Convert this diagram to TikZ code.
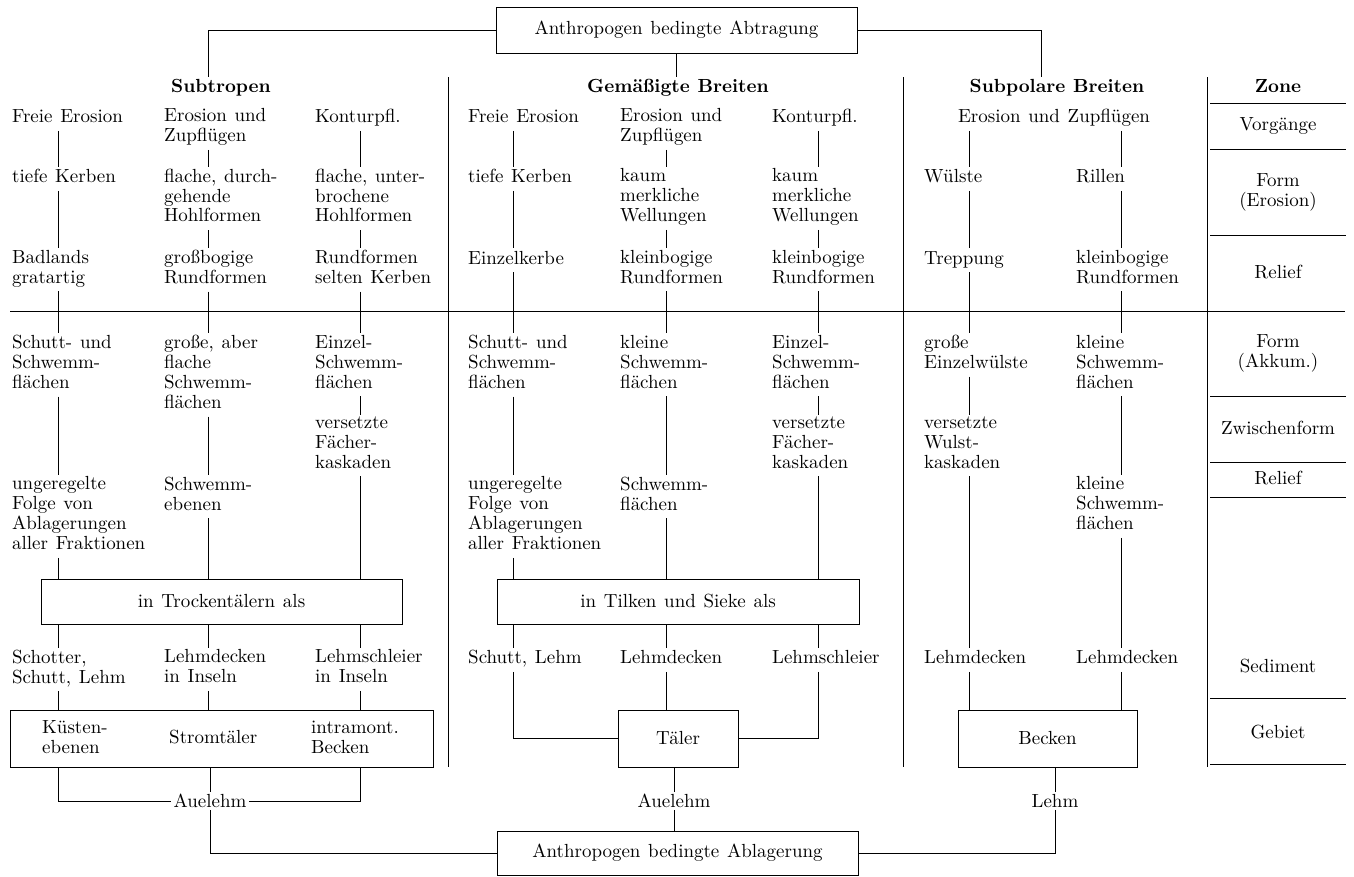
\documentclass[tikz,border=0pt]{standalone}
\newcommand{\fsz}{\fontsize{10.8}{11.34}\selectfont\spaceskip=4.4pt plus 1pt minus 0.5pt\relax}

\begin{document}
\begin{tikzpicture}[x=0.02cm, y=-0.02cm, line width=0.5pt,
  txt/.style={anchor=north west, align=left, inner sep=1pt, font=\fsz, execute at begin node=\strut},
  hd/.style={anchor=base, inner sep=1pt, font=\fsz\bfseries},
  zn/.style={align=center, inner sep=1pt, font=\fsz},
  lbl/.style={inner sep=1pt, font=\fsz},
  bx/.style={draw, minimum height=0.9cm, inner sep=0pt, font=\fsz}]
\useasboundingbox (0,0) rectangle (1354,876);

% column positions of the connectors
\coordinate (sa) at (58,0);
\coordinate (sb) at (208,0);
\coordinate (sc) at (360,0);
\coordinate (ga) at (513,0);
\coordinate (gb) at (666,0);
\coordinate (gc) at (818,0);
\coordinate (pa) at (969,0);
\coordinate (pb) at (1121,0);
\coordinate (pz) at (1041,0);

% head
\node[bx, minimum width=7.22cm, minimum height=0.92cm] (abtr) at (676.5,30) {Anthropogen bedingte Abtragung};
\node[hd] (sub) at (221,92)  {Subtropen};
\node[hd] (gem) at (678,92)  {Gemäßigte Breiten};
\node[hd] (spo) at (1057,92) {Subpolare Breiten};
\node[hd] (zone) at (1278,92) {Zone};

% Subtropen
\node[txt] (s11) at (10,106.5)  {Freie Erosion};
\node[txt] (s12) at (162,106.5) {Erosion und\\Zupflügen};
\node[txt] (s13) at (313,106.5) {Konturpfl.};
\node[txt] (s21) at (10,166.5)  {tiefe Kerben};
\node[txt] (s22) at (162,166.5) {flache, durch-\\gehende\\Hohlformen};
\node[txt] (s23) at (313,166.5) {flache, unter-\\brochene\\Hohlformen};
\node[txt] (s31) at (10,248)    {Badlands\\gratartig};
\node[txt] (s32) at (162,248)   {großbogige\\Rundformen};
\node[txt] (s33) at (313,248)   {Rundformen\\selten Kerben};
\node[txt] (s41) at (10,333)    {Schutt- und\\Schwemm-\\flächen};
\node[txt] (s42) at (162,333)   {große, aber\\flache\\Schwemm-\\flächen};
\node[txt] (s43) at (313,333)   {Einzel-\\Schwemm-\\flächen};
\node[txt] (s53) at (313,414.5) {versetzte\\Fächer-\\kaskaden};
\node[txt] (s61) at (10,474.5)  {ungeregelte\\Folge von\\Ablagerungen\\aller Fraktionen};
\node[txt] (s62) at (162,474.5) {Schwemm-\\ebenen};
\node[bx, minimum width=7.22cm] (stt) at (221.5,601.5) {in Trockentälern als};
\node[txt] (s71) at (10,647.5)  {Schotter,\\Schutt, Lehm};
\node[txt] (s72) at (162,647.5) {Lehmdecken\\in Inseln};
\node[txt] (s73) at (313,647.5) {Lehmschleier\\in Inseln};
\node[draw, minimum width=8.46cm, minimum height=1.14cm, inner sep=0pt] (sgb) at (221.5,738.5) {};
\node[txt] (s81) at (40,718.5)  {Küsten-\\ebenen};
\node[txt] (s82) at (167,727.5) {Stromtäler};
\node[txt] (s83) at (309,718.5) {intramont.\\Becken};
\node[lbl] (sal) at (210,801) {Auelehm};

% Gemaessigte Breiten
\node[txt] (g11) at (466,106.5) {Freie Erosion};
\node[txt] (g12) at (618,106.5) {Erosion und\\Zupflügen};
\node[txt] (g13) at (770,106.5) {Konturpfl.};
\node[txt] (g21) at (466,166.5) {tiefe Kerben};
\node[txt] (g22) at (618,166.5) {kaum\\merkliche\\Wellungen};
\node[txt] (g23) at (770,166.5) {kaum\\merkliche\\Wellungen};
\node[txt] (g31) at (466,248)   {Einzelkerbe};
\node[txt] (g32) at (618,248)   {kleinbogige\\Rundformen};
\node[txt] (g33) at (770,248)   {kleinbogige\\Rundformen};
\node[txt] (g41) at (466,333)   {Schutt- und\\Schwemm-\\flächen};
\node[txt] (g42) at (618,333)   {kleine\\Schwemm-\\flächen};
\node[txt] (g43) at (770,333)   {Einzel-\\Schwemm-\\flächen};
\node[txt] (g53) at (770,414.5) {versetzte\\Fächer-\\kaskaden};
\node[txt] (g61) at (466,474.5) {ungeregelte\\Folge von\\Ablagerungen\\aller Fraktionen};
\node[txt] (g62) at (618,474.5) {Schwemm-\\flächen};
\node[bx, minimum width=7.24cm] (gtk) at (678,601.5) {in Tilken und Sieke als};
\node[txt] (g71) at (466,647.5) {Schutt, Lehm};
\node[txt] (g72) at (618,647.5) {Lehmdecken};
\node[txt] (g73) at (770,647.5) {Lehmschleier};
\node[bx, minimum width=2.4cm, minimum height=1.14cm] (gtl) at (678,738.5) {Täler};
\node[lbl] (gal) at (674,801) {Auelehm};

% Subpolare Breiten
\node[txt, anchor=north] (p1) at (1054,106.5) {Erosion und Zupflügen};
\node[txt] (p21) at (922,166.5)  {Wülste};
\node[txt] (p22) at (1074,166.5) {Rillen};
\node[txt] (p31) at (922,248)    {Treppung};
\node[txt] (p32) at (1074,248)   {kleinbogige\\Rundformen};
\node[txt] (p41) at (922,333)    {große\\Einzelwülste};
\node[txt] (p42) at (1074,333)   {kleine\\Schwemm-\\flächen};
\node[txt] (p51) at (922,414.5)  {versetzte\\Wulst-\\kaskaden};
\node[txt] (p62) at (1074,474.5) {kleine\\Schwemm-\\flächen};
\node[txt] (p71) at (922,647.5)  {Lehmdecken};
\node[txt] (p72) at (1074,647.5) {Lehmdecken};
\node[bx, minimum width=3.58cm, minimum height=1.14cm] (pbk) at (1047.5,738.5) {Becken};
\node[lbl] (pl) at (1055,801) {Lehm};

% foot
\node[bx, minimum width=7.22cm, minimum height=0.88cm] (abl) at (677.5,853) {Anthropogen bedingte Ablagerung};

% Zone
\node[zn] (z1) at (1278,126) {Vorgänge};
\node[zn] (z2) at (1278,192) {Form\\(Erosion)};
\node[zn] (z3) at (1278,272) {Relief};
\node[zn] (z4) at (1278,353) {Form\\(Akkum.)};
\node[zn] (z5) at (1278,428) {Zwischenform};
\node[zn] (z6) at (1278,478) {Relief};
\node[zn] (z7) at (1278,666) {Sediment};
\node[zn] (z8) at (1278,732) {Gebiet};

% rules
\draw (10,311) -- (1345,311);
\draw (448,77) -- (448,767);
\draw (903,77) -- (903,767);
\draw (1207,77) -- (1207,767);
\foreach \y in {103,149,235,396,462,497,698,764}
  \draw (1210,\y) -- (1346,\y);

% head connectors
\draw (abtr.west) -| (sub.north -| sb);
\draw (abtr.east) -| (spo.north -| pz);
\draw (abtr.south) -- (gem.north -| abtr.south);

% Subtropen connectors
\draw (s11.south -| sa) -- (s21.north -| sa);
\draw (s21.south -| sa) -- (s31.north -| sa);
\draw (s31.south -| sa) -- (s41.north -| sa);
\draw (s41.south -| sa) -- (s61.north -| sa);
\draw (s61.south -| sa) -- (stt.north -| sa);
\draw (stt.south -| sa) -- (s71.north -| sa);
\draw (s71.south -| sa) -- (sgb.north -| sa);
\draw (s12.south -| sb) -- (s22.north -| sb);
\draw (s22.south -| sb) -- (s32.north -| sb);
\draw (s32.south -| sb) -- (s42.north -| sb);
\draw (s42.south -| sb) -- (s62.north -| sb);
\draw (s62.south -| sb) -- (stt.north -| sb);
\draw (stt.south -| sb) -- (s72.north -| sb);
\draw (s72.south -| sb) -- (sgb.north -| sb);
\draw (s13.south -| sc) -- (s23.north -| sc);
\draw (s23.south -| sc) -- (s33.north -| sc);
\draw (s33.south -| sc) -- (s43.north -| sc);
\draw (s43.south -| sc) -- (s53.north -| sc);
\draw (s53.south -| sc) -- (stt.north -| sc);
\draw (stt.south -| sc) -- (s73.north -| sc);
\draw (s73.south -| sc) -- (sgb.north -| sc);
\draw (sgb.south -| sa) |- (sal.west);
\draw (sgb.south -| sc) |- (sal.east);
\draw (sgb.south -| sal) -- (sal.north);
\draw (sal.south) |- (abl.west);

% Gemaessigte Breiten connectors
\draw (g11.south -| ga) -- (g21.north -| ga);
\draw (g21.south -| ga) -- (g31.north -| ga);
\draw (g31.south -| ga) -- (g41.north -| ga);
\draw (g41.south -| ga) -- (g61.north -| ga);
\draw (g61.south -| ga) -- (gtk.north -| ga);
\draw (gtk.south -| ga) -- (g71.north -| ga);
\draw (g71.south -| ga) |- (gtl.west);
\draw (g12.south -| gb) -- (g22.north -| gb);
\draw (g22.south -| gb) -- (g32.north -| gb);
\draw (g32.south -| gb) -- (g42.north -| gb);
\draw (g42.south -| gb) -- (g62.north -| gb);
\draw (g62.south -| gb) -- (gtk.north -| gb);
\draw (gtk.south -| gb) -- (g72.north -| gb);
\draw (g72.south -| gb) -- (gtl.north -| gb);
\draw (g13.south -| gc) -- (g23.north -| gc);
\draw (g23.south -| gc) -- (g33.north -| gc);
\draw (g33.south -| gc) -- (g43.north -| gc);
\draw (g43.south -| gc) -- (g53.north -| gc);
\draw (g53.south -| gc) -- (gtk.north -| gc);
\draw (gtk.south -| gc) -- (g73.north -| gc);
\draw (g73.south -| gc) |- (gtl.east);
\draw (gtl.south -| gal) -- (gal.north);
\draw (gal.south) -- (abl.north -| gal);

% Subpolare Breiten connectors
\draw (p1.south -| pa) -- (p21.north -| pa);
\draw (p21.south -| pa) -- (p31.north -| pa);
\draw (p31.south -| pa) -- (p41.north -| pa);
\draw (p41.south -| pa) -- (p51.north -| pa);
\draw (p51.south -| pa) -- (p71.north -| pa);
\draw (p71.south -| pa) -- (pbk.north -| pa);
\draw (p1.south -| pb) -- (p22.north -| pb);
\draw (p22.south -| pb) -- (p32.north -| pb);
\draw (p32.south -| pb) -- (p42.north -| pb);
\draw (p42.south -| pb) -- (p62.north -| pb);
\draw (p62.south -| pb) -- (p72.north -| pb);
\draw (p72.south -| pb) -- (pbk.north -| pb);
\draw (pbk.south -| pl) -- (pl.north);
\draw (pl.south) |- (abl.east);
\end{tikzpicture}
\end{document}
